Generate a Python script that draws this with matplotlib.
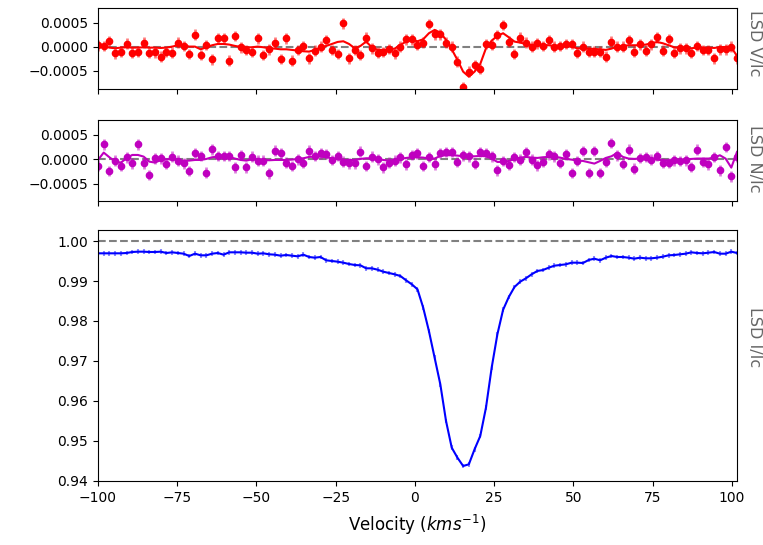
import matplotlib
matplotlib.use("Agg")
import matplotlib.pyplot as plt
import numpy as np

# velocity grid (km/s), 1.8 km/s step
vel_start = -100.0
vel_step = 1.8
n_pts = 113

# Stokes V (units of 1e-4)
stokes_v = [0.35, 0.21, 1.25, -1.32, -0.97, 0.69, -1.18, -0.97, 0.90, -1.18,
            -1.11, -2.01, -1.04, -1.18, 0.90, 0.21, -1.46, 2.57, -1.67, 0.42,
            -2.57, 1.81, 1.81, -2.85, 2.29, -0.07, -0.62, -0.97, 1.81, -1.67,
            -0.49, 0.90, -2.50, 1.81, -2.85, -0.62, 0.21, -2.36, -0.76, 0.07,
            1.46, -0.62, -1.46, 4.93, -2.36, -0.62, -1.67, 1.94, -0.28, -1.18,
            -1.04, -0.42, -1.32, 0.07, 1.60, 1.60, 0.42, 0.90, 4.79, 2.64,
            2.64, 0.90, 0.07, -3.05, -8.40, -5.14, -3.75, -4.58, 0.62, 0.42,
            2.50, 4.58, 1.11, -1.46, 1.94, 0.90, 0.07, 0.76, 0.21, 1.46,
            0.07, 0.21, 0.62, 0.62, -1.18, 0.07, -0.97, -0.97, -0.97, -2.01,
            1.11, 0.07, 0.07, 1.46, -0.97, 0.56, -0.76, 0.56, 2.01, -0.76,
            1.67, -1.18, -0.28, -0.28, -1.18, 0.21, -0.62, -0.62, -2.36, -0.49,
            -0.49, 0.07, -2.36]

# model fit to V (units of 1e-4)
model_v = [0.42, 0.21, -0.14, -0.28, -0.14, -0.07, -0.14, -0.14, -0.07, -0.14,
           -0.14, -0.21, -0.14, 0.07, 0.35, 0.35, 0.07, 0.07, -0.49, -0.07,
           0.35, 0.62, 0.62, 0.49, 0.21, 0.00, -0.07, -0.07, 0.07, -0.07,
           -0.28, -0.35, -0.49, -0.49, -0.62, -0.76, -0.90, -0.97, -0.62, -0.14,
           0.21, 0.62, 1.04, 1.18, 0.62, -0.28, 0.21, 1.11, -0.07, -0.62,
           -0.62, -0.49, -0.35, 0.42, 1.11, 1.46, 1.18, 1.60, 2.85, 3.54,
           2.99, 1.46, -0.49, -2.71, -5.14, -6.18, -5.14, -3.54, -0.28, 1.32,
           2.29, 2.85, 2.01, 1.11, 0.90, 0.62, 0.42, 0.42, 0.42, 0.35,
           0.21, 0.21, 0.21, 0.07, -0.28, -0.35, -0.35, -0.42, -0.49, -0.62,
           -0.35, 0.07, 0.21, 0.35, 0.35, 0.35, 0.49, 0.76, 1.04, 0.76,
           0.35, -0.07, -0.21, -0.28, -0.28, -0.14, -0.14, -0.14, -0.21, -0.07,
           0.00, -0.07, -1.88]

# null N (units of 1e-4)
null_n = [-1.29, 3.06, -2.38, -0.27, -1.36, 0.41, -0.82, 3.06, -0.82, -3.20,
          0.20, 0.20, -0.95, 0.54, -0.27, -0.82, -2.38, 1.22, 0.68, -2.72,
          2.04, 0.68, 0.68, 0.68, -1.63, 0.88, -1.63, 0.54, -0.27, -0.27,
          -2.86, 1.77, 1.22, -0.68, -1.36, 0.00, -0.68, 1.77, 0.68, 1.22,
          1.09, -0.14, 0.68, -0.48, -0.82, -0.82, 1.56, -1.36, 0.54, 0.00,
          -1.63, -0.68, -0.27, 0.41, -1.02, 0.88, 1.22, -1.36, 0.48, -1.02,
          1.29, 1.50, 1.50, -0.54, 0.82, 0.61, -0.88, 1.50, 1.29, 0.61,
          -2.24, -0.34, -1.09, 0.48, -0.07, 1.50, -0.07, -1.22, -0.54, 1.02,
          0.61, -0.75, 1.02, -2.79, -0.34, 1.70, -2.79, 1.70, -2.79, -0.54,
          3.33, 0.82, -0.88, 1.97, -1.90, 0.27, 0.48, -0.07, 0.68, -0.75,
          -0.75, -0.20, -0.34, -0.20, -1.56, 1.97, -0.54, -1.02, 0.48, -2.24,
          2.52, -3.47, 0.50]

# model fit to N (units of 1e-4)
model_n = [-0.14, 1.36, 0.41, -0.48, -0.68, 0.20, 0.88, 0.88, 0.54, -0.48,
           -0.68, -0.14, 0.00, 0.00, -0.14, -0.34, -0.27, -0.14, -0.14, 0.07,
           0.41, 0.54, 0.54, 0.48, 0.14, -0.14, -0.27, 0.00, -0.07, -0.14,
           -0.20, -0.14, -0.14, -0.14, -0.07, 0.07, 0.20, 0.48, 0.54, 0.54,
           0.41, 0.20, 0.00, -0.14, -0.14, -0.14, 0.07, 0.20, 0.20, 0.07,
           -0.14, -0.27, -0.14, 0.07, 0.27, 0.41, 0.41, 0.34, 0.14, 0.14,
           0.68, 0.82, 0.82, 0.75, 0.61, 0.61, 0.61, 0.68, 0.61, 0.14,
           -0.54, -0.54, -0.34, 0.00, 0.34, 0.48, 0.34, 0.27, 0.41, 0.48,
           0.48, 0.34, 0.07, -0.07, -0.27, -0.34, -0.61, -0.88, -0.34, 0.27,
           0.61, 1.29, 0.48, 0.14, 0.07, 0.14, 0.14, 0.07, -0.07, -0.20,
           -0.20, -0.20, -0.20, -0.14, 0.07, 0.14, 0.14, 0.14, 0.34, 0.82,
           0.14, -1.70, 1.50]

# Stokes I / Ic
stokes_i = [0.99692, 0.99692, 0.99692, 0.99692, 0.99692, 0.99700, 0.99725, 0.99733, 0.99733, 0.99725,
            0.99725, 0.99733, 0.99700, 0.99717, 0.99700, 0.99683, 0.99625, 0.99683, 0.99642, 0.99642,
            0.99683, 0.99700, 0.99658, 0.99717, 0.99717, 0.99717, 0.99708, 0.99708, 0.99683, 0.99692,
            0.99667, 0.99658, 0.99633, 0.99650, 0.99633, 0.99617, 0.99658, 0.99600, 0.99583, 0.99600,
            0.99517, 0.99500, 0.99483, 0.99458, 0.99425, 0.99400, 0.99392, 0.99317, 0.99317, 0.99283,
            0.99233, 0.99200, 0.99167, 0.99125, 0.99017, 0.98917, 0.98792, 0.98333, 0.97750, 0.97083,
            0.96417, 0.95500, 0.94833, 0.94583, 0.94375, 0.94417, 0.94792, 0.95125, 0.95833, 0.96833,
            0.97667, 0.98280, 0.98600, 0.98850, 0.98983, 0.99067, 0.99167, 0.99250, 0.99275, 0.99333,
            0.99383, 0.99400, 0.99417, 0.99458, 0.99458, 0.99450, 0.99525, 0.99558, 0.99517, 0.99583,
            0.99625, 0.99600, 0.99600, 0.99583, 0.99558, 0.99583, 0.99567, 0.99567, 0.99583, 0.99608,
            0.99642, 0.99650, 0.99667, 0.99683, 0.99717, 0.99700, 0.99692, 0.99708, 0.99725, 0.99683,
            0.99683, 0.99733, 0.99700]

err_v = 1.1e-4
err_n = 1.1e-4
err_i = 0.0006

vel = vel_start + vel_step * np.arange(n_pts)
V = np.array(stokes_v) * 1e-4
Vmod = np.array(model_v) * 1e-4
N = np.array(null_n) * 1e-4
Nmod = np.array(model_n) * 1e-4
I = np.array(stokes_i)

fig = plt.figure(figsize=(7.63, 5.45), dpi=100)
left, width = 98 / 763, 639 / 763
axV = fig.add_axes([left, 1 - 89 / 545, width, 81 / 545])
axN = fig.add_axes([left, 1 - 201 / 545, width, 81 / 545], sharex=axV)
axI = fig.add_axes([left, 1 - 481 / 545, width, 251 / 545], sharex=axV)

# V panel
axV.axhline(0, color='gray', ls='--', lw=1.5, zorder=1)
axV.errorbar(vel, V, yerr=err_v, fmt='none', ecolor='r', alpha=0.5, lw=2)
axV.plot(vel, V, 'o', color='r', ms=4.5)
axV.plot(vel, Vmod, '-', color='r', lw=1.5)
axV.set_ylim(-0.000875, 0.00081)
axV.set_yticks([-0.0005, 0, 0.0005])
axV.tick_params(labelbottom=False)

# N panel
axN.axhline(0, color='gray', ls='--', lw=1.5, zorder=1)
axN.errorbar(vel, N, yerr=err_n, fmt='none', ecolor='m', alpha=0.5, lw=2)
axN.plot(vel, N, 'o', color='m', ms=4.5)
axN.plot(vel, Nmod, '-', color='m', lw=1.5)
axN.set_ylim(-0.00085, 0.0008)
axN.set_yticks([-0.0005, 0, 0.0005])
axN.tick_params(labelbottom=False)

# I panel
axI.axhline(1.0, color='gray', ls='--', lw=1.5, zorder=1)
axI.errorbar(vel, I, yerr=err_i, fmt='none', ecolor='b', alpha=0.45, lw=1.5)
axI.plot(vel, I, '-', color='b', lw=1.5)
axI.set_ylim(0.94, 1.00275)
axI.set_xlim(vel[0], vel[-1])
axI.set_xlabel("Velocity ($kms^{-1}$)", fontsize=12, labelpad=6)

for ax, lab, ypos in [(axV, "LSD V/Ic", 0.56), (axN, "LSD N/Ic", 0.52), (axI, "LSD I/Ic", 0.575)]:
    ax.text(1.028, ypos, lab, transform=ax.transAxes, rotation=270,
            va='center', ha='center', color='#666666', fontsize=11.5)

fig.savefig("out.png", dpi=100)
